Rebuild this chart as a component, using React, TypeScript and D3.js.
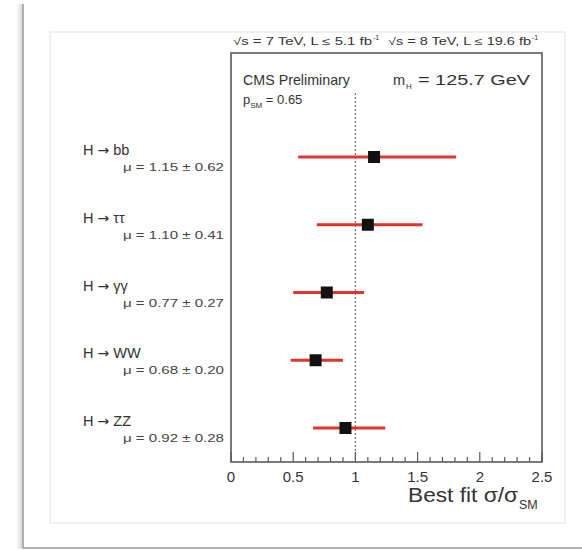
import React from "react";
import * as d3 from "d3";

const channels = ["bb", "ττ", "γγ", "WW", "ZZ"];
const muLabels = ["1.15 ± 0.62", "1.10 ± 0.41", "0.77 ± 0.27", "0.68 ± 0.20", "0.92 ± 0.28"];
const muCentral = [1.15, 1.10, 0.77, 0.68, 0.92];
const muLow = [0.54, 0.69, 0.50, 0.48, 0.66];
const muHigh = [1.81, 1.54, 1.07, 0.90, 1.24];
const majorTicks = [0, 0.5, 1, 1.5, 2, 2.5];
const tickLabels = ["0", "0.5", "1", "1.5", "2", "2.5"];

const W = 582;
const H = 551;
const F = "'Liberation Sans', Arial, Helvetica, sans-serif";

export default function App() {
  const frame = { left: 231, right: 542, top: 53, bottom: 462 };
  const x = d3.scaleLinear().domain([0, 2.5]).range([frame.left, frame.right]);
  const y = d3.scalePoint<string>().domain(channels).range([157, 428]);
  const minorTicks = d3.range(0, 2.5001, 0.1).map((v) => Math.round(v * 10) / 10);
  const red = "#e2352c";
  const frameColor = "#5a5a5a";
  const txt = "#333";

  return (
    <svg
      width={W}
      height={H}
      style={{ position: "absolute", left: 0, top: 0, background: "#fff" }}
      fontFamily={F}
    >
      <defs>
        <linearGradient id="shadow" x1="0" x2="1" y1="0" y2="0">
          <stop offset="0" stopColor="#fff" />
          <stop offset="1" stopColor="#d4d4d4" />
        </linearGradient>
      </defs>
      {/* outer page frame */}
      <rect x={16} y={4} width={7} height={545} fill="url(#shadow)" />
      <line x1={23} x2={23} y1={4} y2={548} stroke="#9a9a9a" strokeWidth={1.5} />
      <line x1={23} x2={582} y1={548} y2={548} stroke="#9a9a9a" strokeWidth={1.5} />
      {/* inner panel */}
      <rect x={50} y={32} width={515} height={491} fill="#fff" stroke="#e6e6e6" strokeWidth={1.2} />

      {/* header text */}
      <text x={233} y={45} fontSize={10.5} fill={txt} textLength={139} lengthAdjust="spacingAndGlyphs">
        √s = 7 TeV, L ≤ 5.1 fb
      </text>
      <text x={373} y={40} fontSize={7} fill={txt}>-1</text>
      <text x={388} y={45} fontSize={10.5} fill={txt} textLength={143} lengthAdjust="spacingAndGlyphs">
        √s = 8 TeV, L ≤ 19.6 fb
      </text>
      <text x={532} y={40} fontSize={7} fill={txt}>-1</text>

      {/* plot frame */}
      <rect
        x={frame.left}
        y={frame.top}
        width={frame.right - frame.left}
        height={frame.bottom - frame.top}
        fill="none"
        stroke={frameColor}
        strokeWidth={1.6}
      />

      <text x={243} y={85} fontSize={14.5} fill={txt} textLength={107} lengthAdjust="spacingAndGlyphs">
        CMS Preliminary
      </text>
      <text x={393} y={85} fontSize={14.5} fill={txt}>m</text>
      <text x={406} y={89} fontSize={8} fill={txt}>H</text>
      <text x={418} y={85} fontSize={15} fill={txt} textLength={112} lengthAdjust="spacingAndGlyphs">
        = 125.7 GeV
      </text>
      <text x={243} y={104} fontSize={13} fill={txt}>
        p<tspan dy={4} fontSize={8}>SM</tspan>
        <tspan dy={-4}> = 0.65</tspan>
      </text>

      {/* SM reference line */}
      <line
        x1={x(1)}
        x2={x(1)}
        y1={frame.top + 40}
        y2={frame.bottom}
        stroke="#777"
        strokeWidth={1.3}
        strokeDasharray="2,2"
      />

      {/* ticks */}
      {minorTicks.map((t) => {
        const major = Math.abs(t * 2 - Math.round(t * 2)) < 1e-6;
        return (
          <line
            key={t}
            x1={x(t)}
            x2={x(t)}
            y1={frame.bottom}
            y2={frame.bottom - (major ? 10 : 5)}
            stroke={frameColor}
            strokeWidth={1.2}
          />
        );
      })}
      {majorTicks.map((t, i) => (
        <text key={t} x={x(t)} y={482} fontSize={15} textAnchor="middle" fill={txt}>
          {tickLabels[i]}
        </text>
      ))}
      <text x={408} y={502} fontSize={20} fill={txt} textLength={110} lengthAdjust="spacingAndGlyphs">
        Best fit σ/σ
      </text>
      <text x={519} y={509} fontSize={12.5} fill={txt}>SM</text>

      {/* results */}
      {channels.map((c, i) => {
        const yy = y(c) as number;
        return (
          <g key={c}>
            <text x={83} y={yy - 2} fontSize={14.5} fill={txt}>
              H{" "}
              <tspan fontFamily="'DejaVu Sans', sans-serif" fontSize={14}>→</tspan> {c}
            </text>
            <text
              x={123}
              y={yy + 14}
              fontSize={11.5}
              fill="#444"
              textLength={101}
              lengthAdjust="spacingAndGlyphs"
            >
              μ = {muLabels[i]}
            </text>
            <line
              x1={x(muLow[i])}
              x2={x(muHigh[i])}
              y1={yy}
              y2={yy}
              stroke={red}
              strokeWidth={3}
            />
            <rect x={x(muCentral[i]) - 6} y={yy - 6} width={12} height={12} fill="#111" />
          </g>
        );
      })}
    </svg>
  );
}
